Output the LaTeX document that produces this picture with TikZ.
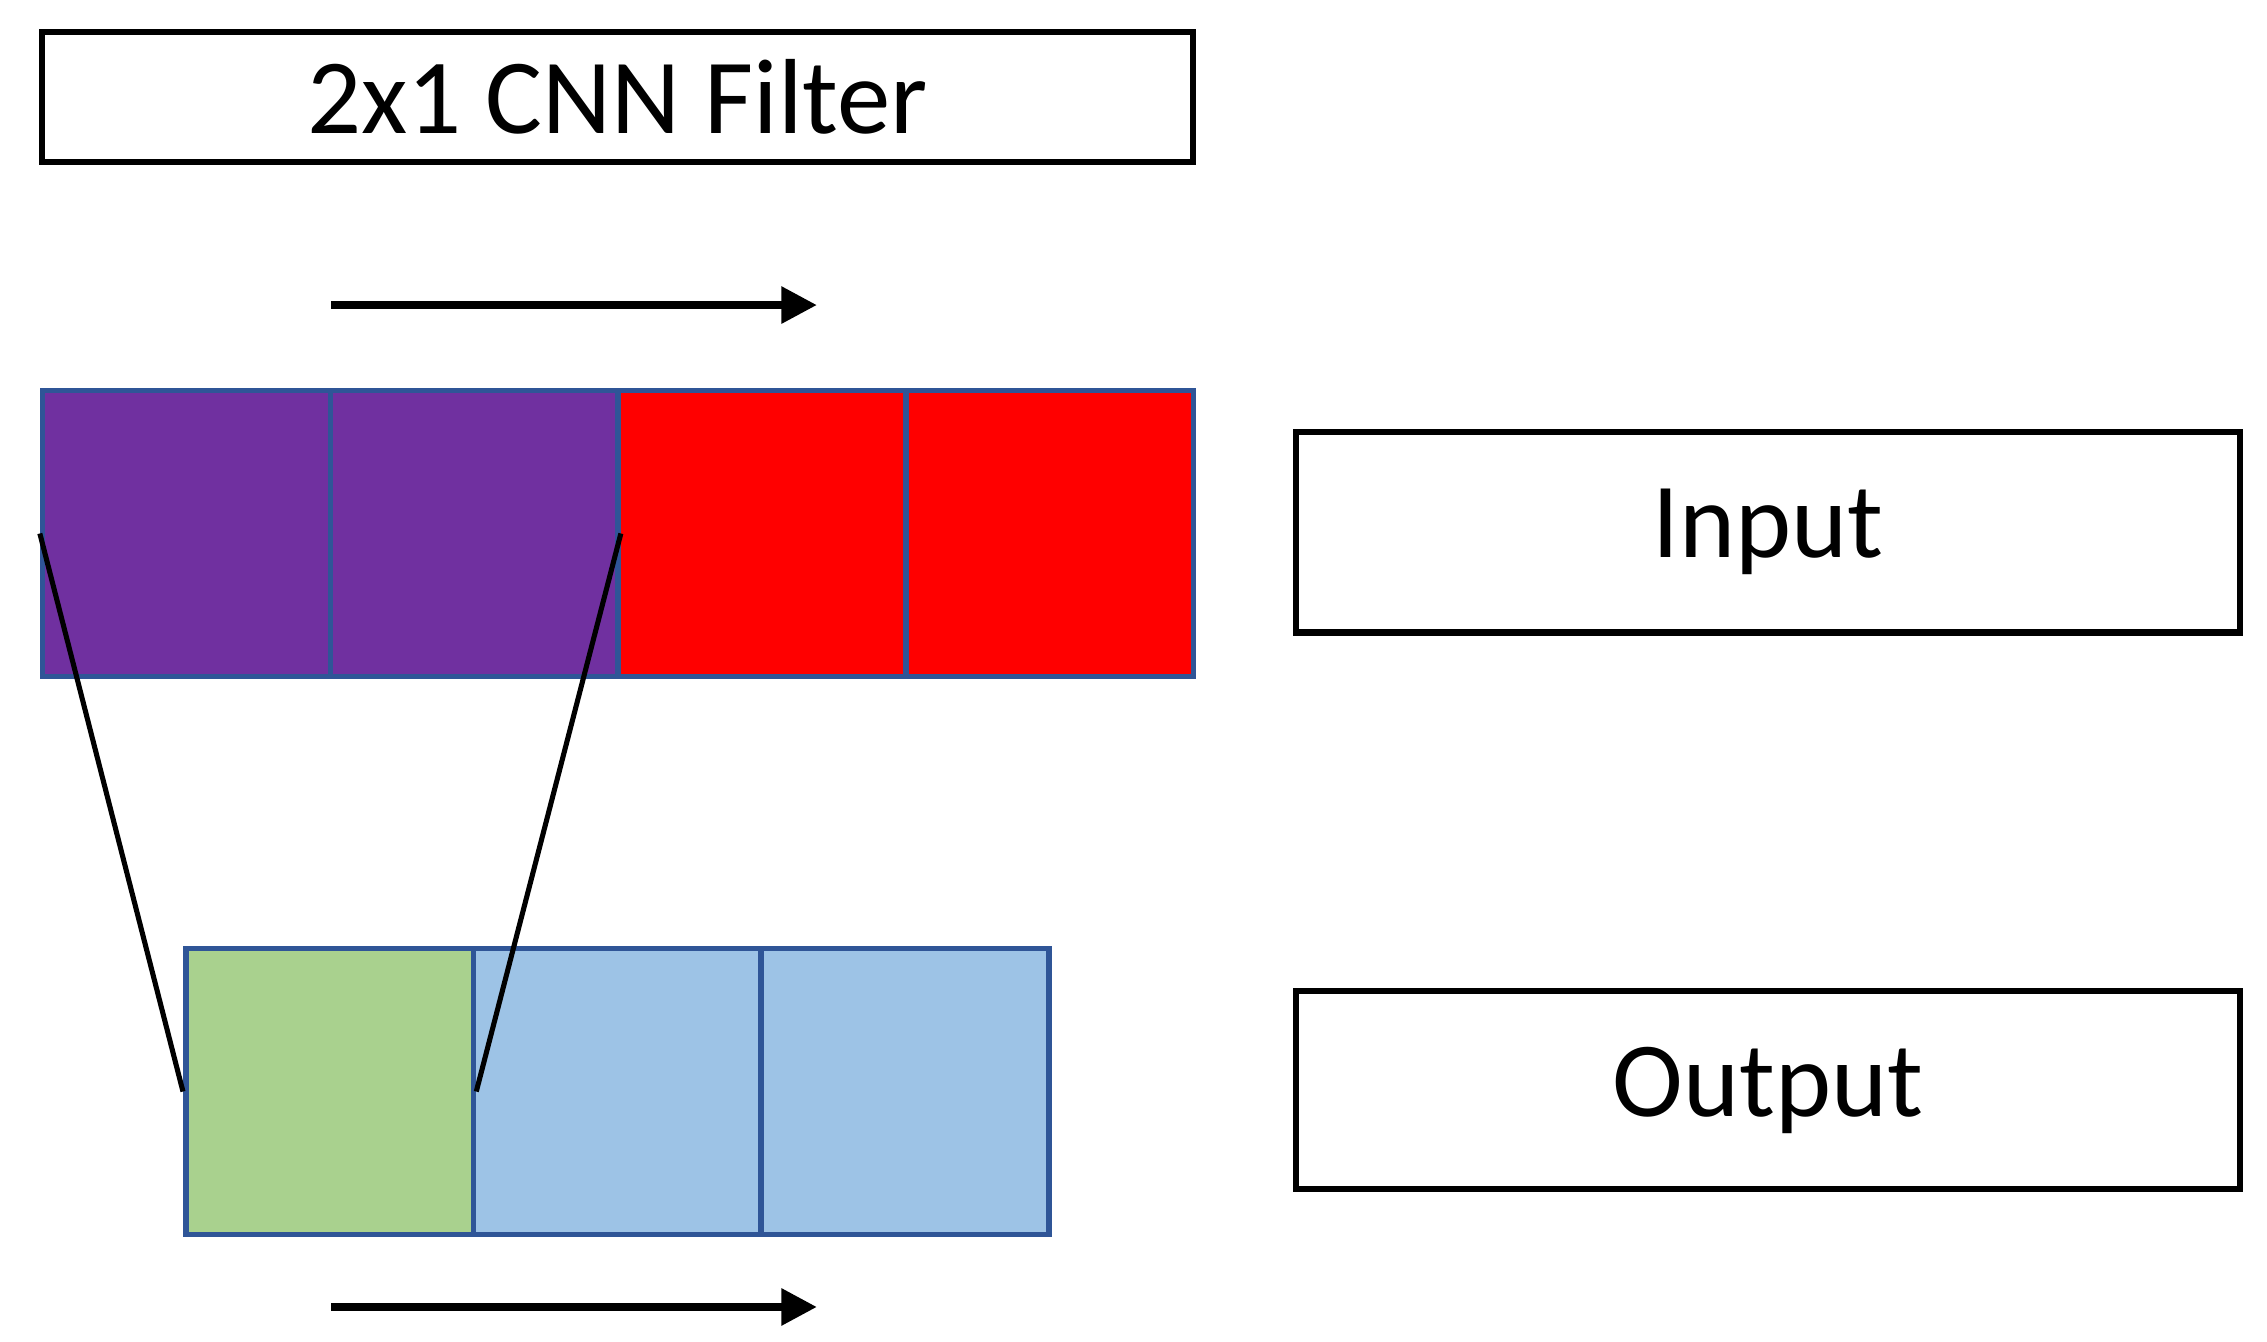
\documentclass[tikz,border=0pt]{standalone}
\usepackage{fontspec}
\setmainfont{Carlito}
\usetikzlibrary{arrows.meta}
\definecolor{cellb}{HTML}{2F5597}
\definecolor{purp}{HTML}{7030A0}
\definecolor{grn}{HTML}{A9D18E}
\definecolor{lblue}{HTML}{9DC3E6}
\begin{document}
\begin{tikzpicture}[x=0.01cm,y=-0.01cm,
  lbl/.style={draw=black,line width=1.2pt,inner sep=0pt,font=\fontsize{21}{25}\selectfont},
  cell/.style={draw=cellb,line width=1.1pt,inner sep=0pt,minimum width=199*0.01cm,minimum height=198*0.01cm},
  mv/.style={line width=1.5pt,-{Triangle[length=7pt,width=7pt]}},
  ln/.style={line width=1pt}]
\useasboundingbox (0,0) rectangle (1568,928);
\node[lbl,minimum width=796*0.01cm,minimum height=90*0.01cm] (title) at (427,67) {2x1 CNN Filter};
\node[lbl,minimum width=653*0.01cm,minimum height=139*0.01cm] (inp) at (1223,368) {Input};
\node[lbl,minimum width=653*0.01cm,minimum height=137*0.01cm] (out) at (1223,754) {Output};
\coordinate (a1s) at (229,211); \coordinate (a1e) at (565,211);
\coordinate (a2s) at (229,904); \coordinate (a2e) at (565,904);
\draw[mv] (a1s) -- (a1e);
\draw[mv] (a2s) -- (a2e);
\node[cell,fill=purp] (i1) at (129,369) {};
\node[cell,fill=purp] (i2) at (328,369) {};
\node[cell,fill=red] (i3) at (527,369) {};
\node[cell,fill=red] (i4) at (726,369) {};
\node[cell,fill=grn] (o1) at (228,755) {};
\node[cell,fill=lblue] (o2) at (427,755) {};
\node[cell,fill=lblue] (o3) at (626,755) {};
\draw[ln] (i1.west) -- (o1.west);
\draw[ln] (i2.east) -- (o1.east);
\end{tikzpicture}
\end{document}
